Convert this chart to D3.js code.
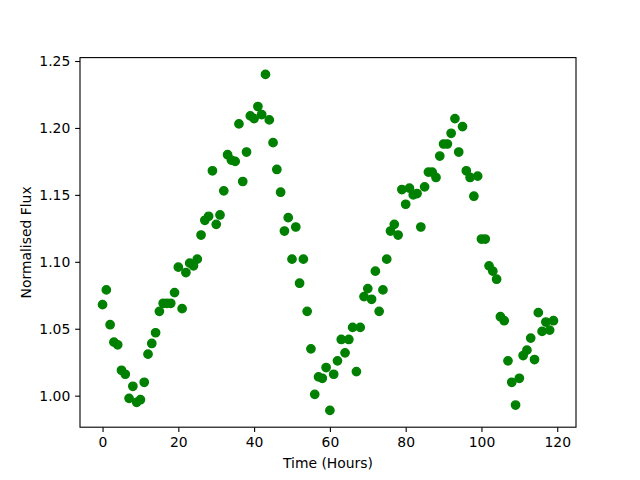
<!DOCTYPE html>
<html>
<head>
<meta charset="utf-8">
<script src="https://cdn.jsdelivr.net/npm/d3@7"></script>
<style>
  body { margin: 0; background: #fff; }
  svg { display: block; font-family: "DejaVu Sans", sans-serif; }
</style>
</head>
<body>
<div id="chart"></div>
<script>
// Observation times (hours)
const hours = d3.range(0, 120);

// Normalised flux, one per hour
const flux = [
  1.068, 1.079, 1.053, 1.040, 1.038, 1.019, 1.016, 0.998, 1.007, 0.995,
  0.997, 1.010, 1.031, 1.039, 1.047, 1.063, 1.069, 1.069, 1.069, 1.077,
  1.096, 1.065, 1.092, 1.099, 1.097, 1.102, 1.120, 1.131, 1.134, 1.168,
  1.128, 1.135, 1.153, 1.180, 1.176, 1.175, 1.203, 1.160, 1.182, 1.209,
  1.207, 1.216, 1.210, 1.240, 1.206, 1.189, 1.169, 1.152, 1.123, 1.133,
  1.102, 1.126, 1.084, 1.102, 1.063, 1.035, 1.001, 1.014, 1.013, 1.021,
  0.989, 1.016, 1.026, 1.042, 1.032, 1.042, 1.051, 1.018, 1.051, 1.074,
  1.080, 1.072, 1.093, 1.063, 1.079, 1.102, 1.123, 1.128, 1.120, 1.154,
  1.143, 1.155, 1.150, 1.151, 1.126, 1.156, 1.167, 1.167, 1.163, 1.179,
  1.188, 1.188, 1.196, 1.207, 1.182, 1.201, 1.168, 1.163, 1.149, 1.164,
  1.117, 1.117, 1.097, 1.093, 1.087, 1.059, 1.056, 1.026, 1.010, 0.993,
  1.013, 1.030, 1.034, 1.043, 1.027, 1.062, 1.048, 1.055, 1.049, 1.056
];

const xTicks = [0, 20, 40, 60, 80, 100, 120];
const yTicks = [1.00, 1.05, 1.10, 1.15, 1.20, 1.25];

const width = 640, height = 480;
const margin = { left: 80, right: 64, top: 57.6, bottom: 52.8 };
const innerW = width - margin.left - margin.right;
const innerH = height - margin.top - margin.bottom;

const svg = d3.select('#chart').append('svg')
  .attr('width', width)
  .attr('height', height);

// matplotlib style 5% margins around the data
const xMin = d3.min(hours), xMax = d3.max(hours);
const yMin = d3.min(flux), yMax = d3.max(flux);
const xPad = (xMax - xMin) * 0.05, yPad = (yMax - yMin) * 0.05;

const x = d3.scaleLinear()
  .domain([xMin - xPad, xMax + xPad])
  .range([0, innerW]);
const y = d3.scaleLinear()
  .domain([yMin - yPad, yMax + yPad])
  .range([innerH, 0]);

const g = svg.append('g')
  .attr('transform', `translate(${margin.left},${margin.top})`);

const xAxis = g.append('g')
  .attr('transform', `translate(0,${innerH})`)
  .call(d3.axisBottom(x).tickValues(xTicks).tickSize(4.86).tickPadding(4.86).tickFormat(d3.format('d')));
const yAxis = g.append('g')
  .call(d3.axisLeft(y).tickValues(yTicks).tickSize(4.86).tickPadding(4.86).tickFormat(d3.format('.2f')));

[xAxis, yAxis].forEach(a => {
  a.select('.domain').remove();
  a.selectAll('line').attr('stroke', '#000').attr('stroke-width', 1.1);
  a.selectAll('text').attr('fill', '#000').style('font-size', '13.9px').style('font-family', '"DejaVu Sans", sans-serif');
});

// points
g.append('g')
  .selectAll('circle')
  .data(hours.map((h, i) => ({ h: h, f: flux[i] })))
  .join('circle')
  .attr('cx', d => x(d.h))
  .attr('cy', d => y(d.f))
  .attr('r', 4.17)
  .attr('fill', '#008000')
  .attr('stroke', '#008000')
  .attr('stroke-width', 1.39);

// frame
g.append('rect')
  .attr('width', innerW)
  .attr('height', innerH)
  .attr('fill', 'none')
  .attr('stroke', '#000')
  .attr('stroke-width', 1.1);

// axis labels
svg.append('text')
  .attr('x', margin.left + innerW / 2)
  .attr('y', 468)
  .attr('text-anchor', 'middle')
  .style('font-size', '13.9px')
  .text('Time (Hours)');

svg.append('text')
  .attr('transform', `translate(31,${margin.top + innerH / 2}) rotate(-90)`)
  .attr('text-anchor', 'middle')
  .style('font-size', '13.9px')
  .text('Normalised Flux');
</script>
</body>
</html>
